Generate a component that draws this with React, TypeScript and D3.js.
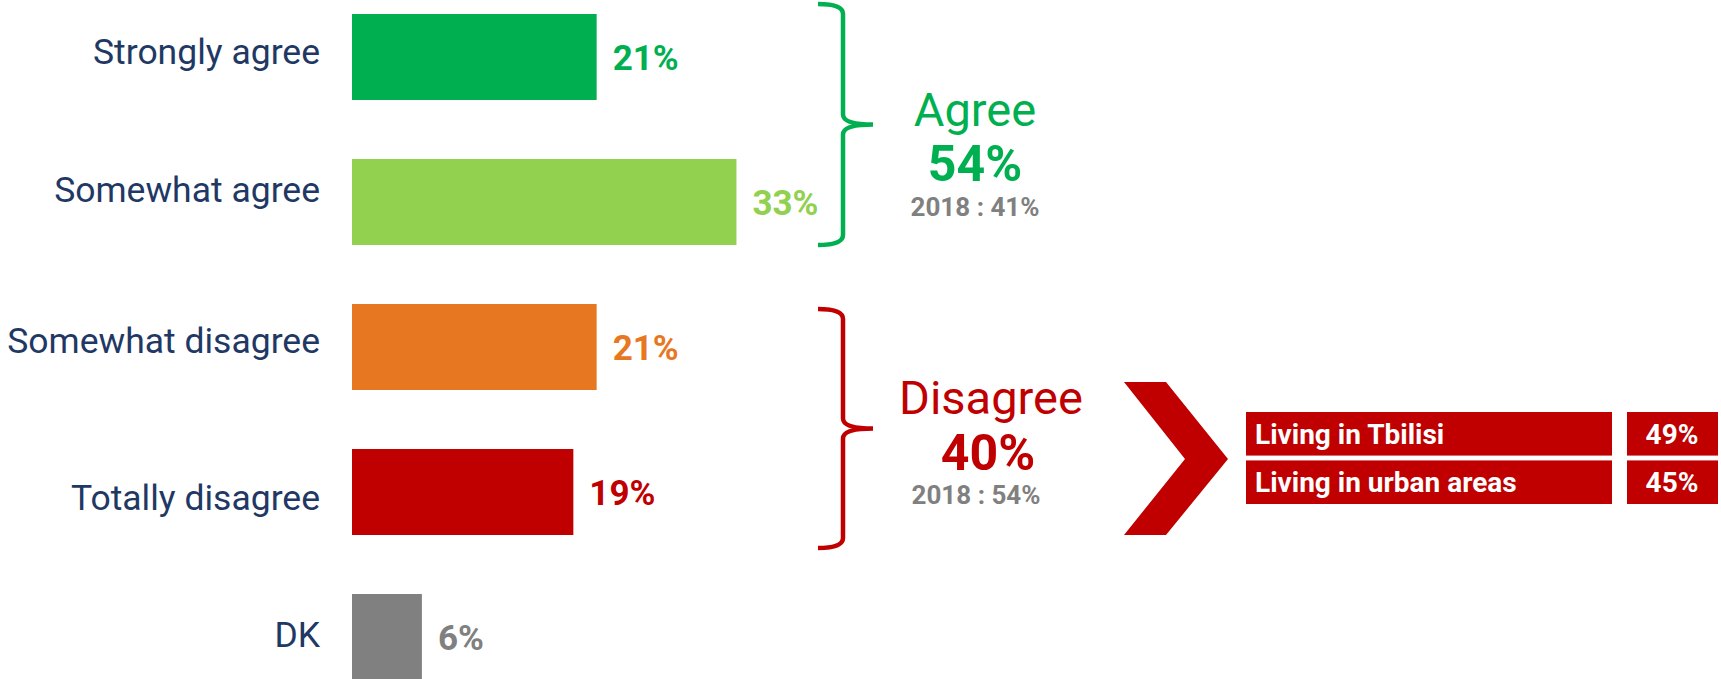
import React from 'react'
import * as d3 from 'd3'

const categories = ['Strongly agree', 'Somewhat agree', 'Somewhat disagree', 'Totally disagree', 'DK']
const values = [21, 33, 21, 19, 6]
const barColors = ['#00b050', '#92d050', '#e87722', '#c00000', '#808080']

const groupNames = ['Agree', 'Disagree']
const groupTotals = [54, 40]
const groupPrev = [41, 54]
const groupColors = ['#00b050', '#c00000']

const subgroups = ['Living in Tbilisi', 'Living in urban areas']
const subValues = [49, 45]

const W = 1721
const H = 679
const FONT = 'Roboto, "Noto Sans", sans-serif'
const NAVY = '#1f3864'
const GREY = '#808080'

// the category labels do not sit at exactly the same height against their bars
const labelNudge = [7, 0, 6, 18, 10]

const App = () => {
  const x = d3.scaleLinear().domain([0, 100]).range([352, 352 + 1165])
  const y = d3.scaleBand().domain(categories).range([14, 680]).paddingInner(0.407).paddingOuter(0)
  const bw = y.bandwidth()

  const rows = d3.scaleBand().domain(subgroups).range([412, 504]).paddingInner(0.1)

  // curly brace opening to the left, tip pointing right
  const brace = (top, bottom) => {
    const x0 = 818, xl = 843, xt = 873, r = 10
    const mid = (top + bottom) / 2
    return `M${x0},${top} Q${xl},${top} ${xl},${top + r} L${xl},${mid - r} Q${xl},${mid} ${xt},${mid}` +
      ` Q${xl},${mid} ${xl},${mid + r} L${xl},${bottom - r} Q${xl},${bottom} ${x0},${bottom}`
  }
  const braces = [
    [y(categories[0]) - 10, y(categories[1]) + bw],
    [y(categories[2]) + 5, y(categories[3]) + bw + 13],
  ]

  const groupText = [
    {cx: [975, 975, 975], base: [126, 181, 216]},
    {cx: [991, 988, 976], base: [414, 470, 504]},
  ]

  const chevron = [[1124, 382], [1166, 382], [1228, 459], [1166, 535], [1124, 535], [1185, 459]]

  return (
    <svg width={W} height={H} style={{position: 'absolute', left: 0, top: 0, background: '#fff'}} fontFamily={FONT}>
      {categories.map((c, i) => (
        <g key={c}>
          <text x={320} y={y(c) + bw / 2 + labelNudge[i]} textAnchor="end" fontSize={35.5} fill={NAVY}>{c}</text>
          <rect x={x(0)} y={y(c)} width={x(values[i]) - x(0)} height={bw} fill={barColors[i]} />
          <text x={x(values[i]) + 16} y={y(c) + bw / 2 + 13} fontSize={35} fontWeight="bold" fill={barColors[i]}>
            {values[i]}%
          </text>
        </g>
      ))}

      {braces.map(([t, b], i) => (
        <path key={i} d={brace(t, b)} fill="none" stroke={groupColors[i]} strokeWidth={4.5} strokeLinecap="butt" />
      ))}

      {groupNames.map((g, i) => (
        <g key={g} textAnchor="middle">
          <text x={groupText[i].cx[0]} y={groupText[i].base[0]} fontSize={47} fill={groupColors[i]}>{g}</text>
          <text x={groupText[i].cx[1]} y={groupText[i].base[1]} fontSize={50} fontWeight="bold" fill={groupColors[i]}>
            {groupTotals[i]}%
          </text>
          <text x={groupText[i].cx[2]} y={groupText[i].base[2]} fontSize={26} fontWeight="bold" fill={GREY}>
            2018 : {groupPrev[i]}%
          </text>
        </g>
      ))}

      <polygon points={chevron.map(p => p.join(',')).join(' ')} fill="#c00000" />

      {subgroups.map((s, i) => (
        <g key={s}>
          <rect x={1246} y={rows(s)} width={366} height={rows.bandwidth()} fill="#c00000" />
          <text x={1255} y={rows(s) + rows.bandwidth() / 2 + 10} fontSize={28} fontWeight="bold" fill="#fff">{s}</text>
          <rect x={1627} y={rows(s)} width={91} height={rows.bandwidth()} fill="#c00000" />
          <text x={1672} y={rows(s) + rows.bandwidth() / 2 + 10} textAnchor="middle" fontSize={28} fontWeight="bold" fill="#fff">
            {subValues[i]}%
          </text>
        </g>
      ))}
    </svg>
  )
}

export default App
